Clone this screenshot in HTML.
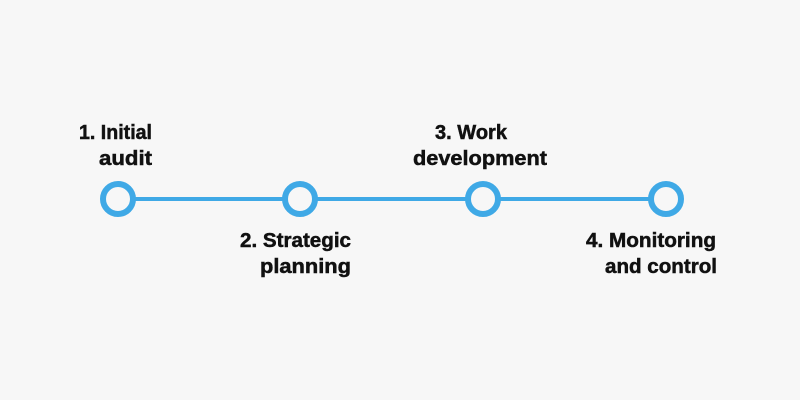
<!DOCTYPE html>
<html><head><style>html,body{margin:0;padding:0;background:#f7f7f7;}</style></head>
<body>
<svg width="800" height="400" xmlns="http://www.w3.org/2000/svg" style="display:block">
<rect width="800" height="400" fill="#f7f7f7"/>
<line x1="118" y1="199" x2="666" y2="199" stroke="#3fa9e6" stroke-width="4"/>
<g fill="#f7f7f7" stroke="#3fa9e6" stroke-width="6">
<circle cx="118" cy="199" r="15"/>
<circle cx="300" cy="199" r="15"/>
<circle cx="483" cy="199" r="15"/>
<circle cx="666" cy="199" r="15"/>
</g>
<g font-family="Liberation Sans, sans-serif" font-weight="bold" font-size="20" fill="#111" stroke="#111" stroke-width="0.5">
<text x="79" y="139" textLength="73" lengthAdjust="spacingAndGlyphs">1. Initial</text>
<text x="99" y="165" textLength="53" lengthAdjust="spacingAndGlyphs">audit</text>
<text x="240" y="247" textLength="111" lengthAdjust="spacingAndGlyphs">2. Strategic</text>
<text x="260" y="273" textLength="91" lengthAdjust="spacingAndGlyphs">planning</text>
<text x="435" y="139" textLength="72" lengthAdjust="spacingAndGlyphs">3. Work</text>
<text x="413" y="165" textLength="134" lengthAdjust="spacingAndGlyphs">development</text>
<text x="586" y="247" textLength="130" lengthAdjust="spacingAndGlyphs">4. Monitoring</text>
<text x="605" y="273" textLength="112" lengthAdjust="spacingAndGlyphs">and control</text>
</g>
</svg>
</body></html>
